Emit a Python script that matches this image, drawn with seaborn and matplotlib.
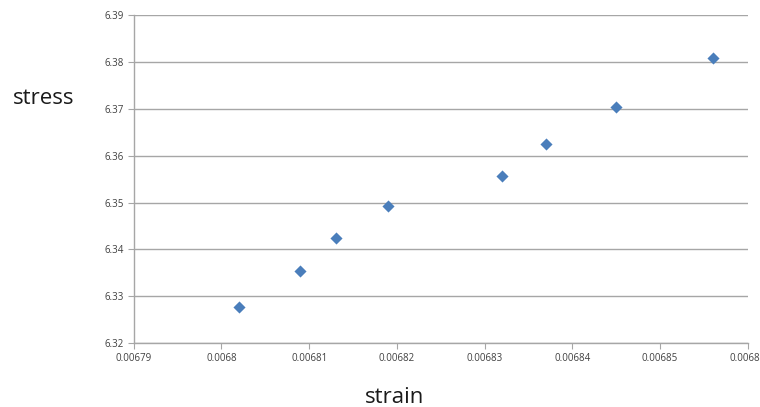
import matplotlib
matplotlib.use("Agg")
import matplotlib.pyplot as plt
import matplotlib.ticker as mticker
import seaborn as sns
import pandas as pd

# datos
strain = [0.006802, 0.006809, 0.006813, 0.006819, 0.006832, 0.006837, 0.006845, 0.006856]
stress = [6.3277, 6.3354, 6.3424, 6.3492, 6.3556, 6.3624, 6.3703, 6.3808]
df = pd.DataFrame({'strain': strain, 'stress': stress})

sns.set_style('white')
plt.rcParams['font.family'] = ['Open Sans', 'DejaVu Sans']

fig = plt.figure(figsize=(7.6, 4.07), dpi=100)
ax = fig.add_axes([0.176, 0.157, 0.808, 0.806])

sns.scatterplot(data=df, x='strain', y='stress', marker='D', s=38,
                color='#4a7ebb', edgecolor='#4a7ebb', linewidth=0, ax=ax, zorder=3)

ax.set_xlim(0.00679, 0.00686)
ax.set_ylim(6.32, 6.39)
ax.xaxis.set_major_locator(mticker.MultipleLocator(0.00001))
ax.yaxis.set_major_locator(mticker.MultipleLocator(0.01))
ax.xaxis.set_major_formatter(mticker.FuncFormatter(lambda v, p: '%g' % round(v, 6)))
ax.yaxis.set_major_formatter(mticker.FuncFormatter(lambda v, p: '%g' % round(v, 2)))

ax.grid(axis='y', color='#a6a6a6', linewidth=1.0)
ax.grid(axis='x', visible=False)
ax.set_axisbelow(True)
for s in ['top', 'right']:
    ax.spines[s].set_visible(False)
for s in ['left', 'bottom']:
    ax.spines[s].set_color('#a6a6a6')
    ax.spines[s].set_linewidth(1.0)

ax.tick_params(axis='both', labelsize=7, colors='#a6a6a6',
               length=4, width=0.8, direction='out', pad=3)
ax.tick_params(axis='both', labelcolor='#404040')
ax.tick_params(left=True, bottom=True)

ax.set_xlabel('strain', fontsize=16, color='#1a1a1a')
ax.set_ylabel('stress', fontsize=16, color='#1a1a1a', rotation=0)
ax.xaxis.set_label_coords(0.425, -0.165)
ax.yaxis.set_label_coords(-0.147, 0.747)
ax.yaxis.label.set_va('center')
ax.xaxis.label.set_va('center')

fig.savefig('out.png', dpi=100, facecolor='white')
